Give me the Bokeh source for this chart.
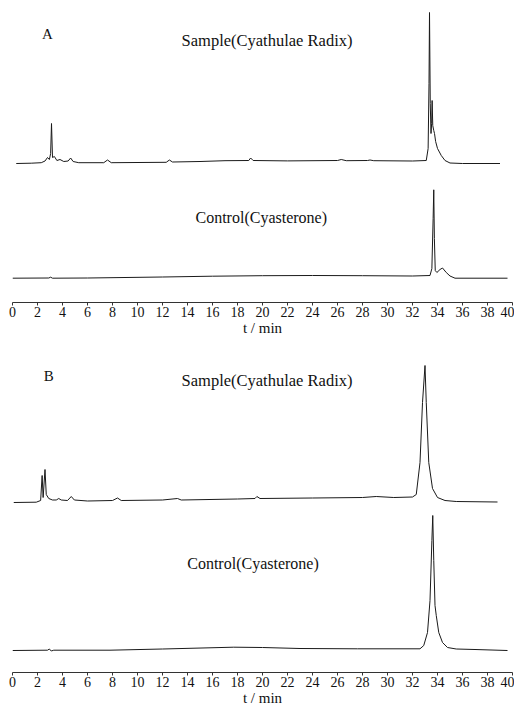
from bokeh.plotting import figure
from bokeh.layouts import column
from bokeh.models import Range1d, FixedTicker, Label
from bokeh.embed import file_html
from bokeh.resources import INLINE

# ---------------- data (t in min, detector signal in arbitrary units) ----------------
tick_values = list(range(0, 41, 2))

a_sample_t = [0.3, 1.5, 2.3, 2.6, 2.8, 2.95, 3.05, 3.12, 3.2, 3.35, 3.55, 3.8, 4.1, 4.45, 4.65, 4.85,
              5.3, 7.3, 7.6, 7.9, 12.3, 12.55, 12.8, 15.0, 17.0, 18.9, 19.05, 19.25, 22.0, 26.0, 26.3,
              26.7, 28.4, 28.6, 28.9, 32.0, 33.1, 33.25, 33.32, 33.36, 33.42, 33.48, 33.53, 33.57,
              33.62, 33.7, 33.76, 33.85, 34.0, 34.3, 34.6, 35.0, 36.0, 39.0]
a_sample_y = [0, 0.3, 0.8, 2.5, 6, 4, 10, 40, 6, 7, 3, 4, 2, 2.5, 5.5, 2,
              0.8, 0.8, 3.5, 0.8, 1.2, 3.5, 1.5, 2, 2.8, 3, 5.5, 3, 2.6, 3, 4,
              2.8, 3, 3.5, 2.8, 2.5, 3, 15, 80, 151, 60, 30, 40, 63,
              38, 33, 30, 22, 15, 8, 3, 0.5, 0, 0]

a_control_t = [0.0, 2.9, 3.05, 3.2, 6.0, 12.0, 16.0, 20.0, 24.0, 28.0, 32.0, 33.4, 33.55, 33.65,
               33.7, 33.75, 33.82, 33.95, 34.2, 34.4, 34.7, 35.0, 35.4, 39.6]
a_control_y = [0.3, 0.5, 1.3, 0.3, 0.5, 1.5, 2.3, 2.8, 3, 2.8, 2.5, 3, 10, 60,
               88.7, 40, 8, 6, 9, 10.5, 6, 2.5, 0.3, 0.3]

b_sample_t = [0.1, 1.9, 2.25, 2.37, 2.45, 2.6, 2.7, 2.9, 3.2, 3.5, 3.7, 3.9, 4.4, 4.7, 4.95, 6.0,
              8.0, 8.4, 8.7, 12.0, 13.2, 13.5, 18.0, 19.4, 19.55, 19.8, 24.0, 28.0, 29.1, 30.5,
              32.0, 32.3, 32.6, 32.8, 33.0, 33.1, 33.3, 33.6, 34.0, 34.6, 35.5, 38.8]
b_sample_y = [0, 0.3, 2, 27, 5, 33, 8, 4, 2.5, 2.5, 4, 2.5, 2, 6, 2.5, 1.5,
              2, 4.5, 2, 2.5, 4, 2.5, 3.5, 4, 6, 4, 4.5, 5, 6, 5,
              5.5, 8, 40, 100, 137, 100, 40, 14, 5, 2, 1, 0.5]

b_control_t = [0.0, 2.8, 2.95, 3.1, 3.3, 7.8, 12.0, 17.7, 20.0, 23.0, 27.6, 32.6, 32.9, 33.2,
               33.4, 33.55, 33.62, 33.7, 33.8, 33.9, 34.1, 34.4, 34.8, 35.5, 37.0, 39.6]
b_control_y = [0, 0.3, 1.5, -0.5, 0.3, 0.3, 1.5, 3.3, 3, 2, 1.7, 1.7, 5, 18,
               50, 110, 135, 90, 45, 35, 18, 8, 3, 1.5, 1, 0]

sample_name = "Sample(Cyathulae Radix)"
control_name = "Control(Cyasterone)"

SERIF = "Liberation Serif"
LINE = "#1a1a1a"


def panel(letter, frame_h, s_t, s_y, s_off, c_t, c_y, c_off, pos):
    p = figure(width=514, frame_width=500, frame_height=frame_h,
               x_range=Range1d(0, 40), y_range=Range1d(0, frame_h),
               output_backend="svg", toolbar_location=None,
               min_border_left=12, min_border_right=2, min_border_top=0,
               min_border_bottom=42)
    p.outline_line_color = None
    p.xgrid.visible = False
    p.ygrid.visible = False
    p.yaxis.visible = False
    p.background_fill_color = "white"
    p.border_fill_color = "white"

    p.line(s_t, [v + s_off for v in s_y], line_color=LINE, line_width=1)
    p.line(c_t, [v + c_off for v in c_y], line_color=LINE, line_width=1)

    ax = p.xaxis[0]
    ax.ticker = FixedTicker(ticks=tick_values)
    ax.minor_tick_line_color = None
    ax.major_tick_in = 0
    ax.major_tick_out = 3
    ax.major_label_standoff = 1
    ax.axis_line_color = "#333333"
    ax.major_tick_line_color = "#333333"
    ax.major_label_text_font = SERIF
    ax.major_label_text_font_size = "14px"
    ax.major_label_text_color = "#111111"
    ax.axis_label = "t / min"
    ax.axis_label_text_font = SERIF
    ax.axis_label_text_font_style = "normal"
    ax.axis_label_text_font_size = "15px"
    ax.axis_label_text_color = "#111111"
    ax.axis_label_standoff = 0

    (lx, ly), (sx, sy), (cx, cy) = pos
    p.add_layout(Label(x=lx, y=ly, text=letter, text_font=SERIF, text_font_size="15px",
                       text_align="center", text_baseline="middle", text_color="#111111"))
    p.add_layout(Label(x=sx, y=sy, text=sample_name, text_font=SERIF, text_font_size="16.5px",
                       text_align="center", text_baseline="middle", text_color="#111111"))
    p.add_layout(Label(x=cx, y=cy, text=control_name, text_font=SERIF, text_font_size="16px",
                       text_align="center", text_baseline="middle", text_color="#111111"))
    return p


pa = panel("A", 302, a_sample_t, a_sample_y, 139, a_control_t, a_control_y, 24,
           ((2.8, 269), (20.36, 262), (19.9, 85)))
pb = panel("B", 328, b_sample_t, b_sample_y, 170, b_control_t, b_control_y, 22,
           ((2.9, 297), (20.36, 292), (19.24, 109)))

layout = column(pa, pb, spacing=0)
open("out.html", "w").write(file_html(layout, INLINE))
